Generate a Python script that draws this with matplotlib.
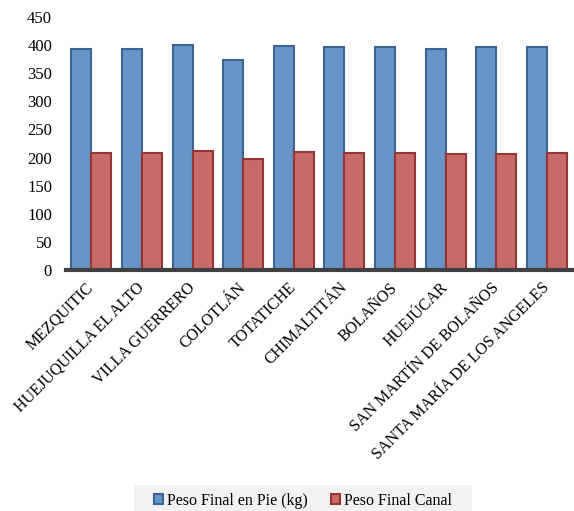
import matplotlib.pyplot as plt
from matplotlib.patches import Rectangle
import numpy as np

plt.rcParams['font.family'] = ['Liberation Serif', 'DejaVu Serif']

municipios = ["MEZQUITIC", "HUEJUQUILLA EL ALTO", "VILLA GUERRERO", "COLOTLÁN",
              "TOTATICHE", "CHIMALTITÁN", "BOLAÑOS", "HUEJÚCAR",
              "SAN MARTÍN DE BOLAÑOS", "SANTA MARÍA DE LOS ANGELES"]
peso_pie = [394, 393, 400, 373, 399, 396, 396, 393, 397, 396]
peso_canal = [209, 207.5, 212, 197.5, 210.5, 209, 208, 207, 206, 209]

fig = plt.figure(figsize=(5.74, 5.11), dpi=100)
ax = fig.add_axes([0.115, 0.4716, 0.882, 0.4951])

x = np.arange(len(municipios))
w = 0.395
ax.bar(x - w / 2, peso_pie, w, color='#6894C8', edgecolor='#3B6496', linewidth=1.5,
       label='Peso Final en Pie (kg)')
ax.bar(x + w / 2, peso_canal, w, color='#C96A68', edgecolor='#943634', linewidth=1.5,
       label='Peso Final Canal')

ax.set_xlim(-0.5, len(municipios) - 0.5)
ax.set_ylim(0, 450)
ax.set_yticks(range(0, 451, 50))
ax.tick_params(axis='y', length=0, labelsize=12, pad=10)
ax.tick_params(axis='x', length=0, labelsize=11.5, pad=11)
ax.set_xticks(x)
ax.set_xticklabels(municipios, rotation=45, ha='right', va='center',
                   rotation_mode='anchor')

for s in ['top', 'right', 'left']:
    ax.spines[s].set_visible(False)
ax.spines['bottom'].set_color('#404040')
ax.spines['bottom'].set_linewidth(3)

# light grey band behind the legend
fig.patches.append(Rectangle((0.2334, 0.0), 0.589, 0.051, transform=fig.transFigure,
                             facecolor='#F2F2F2', edgecolor='none', zorder=0))
leg = fig.legend(loc='center', bbox_to_anchor=(0.528, 0.02), ncol=2, fontsize=11.5,
                 frameon=False, handlelength=0.55, handleheight=0.55,
                 handletextpad=0.25, columnspacing=1.5, borderpad=0.2)

fig.savefig('out.png', dpi=100)
